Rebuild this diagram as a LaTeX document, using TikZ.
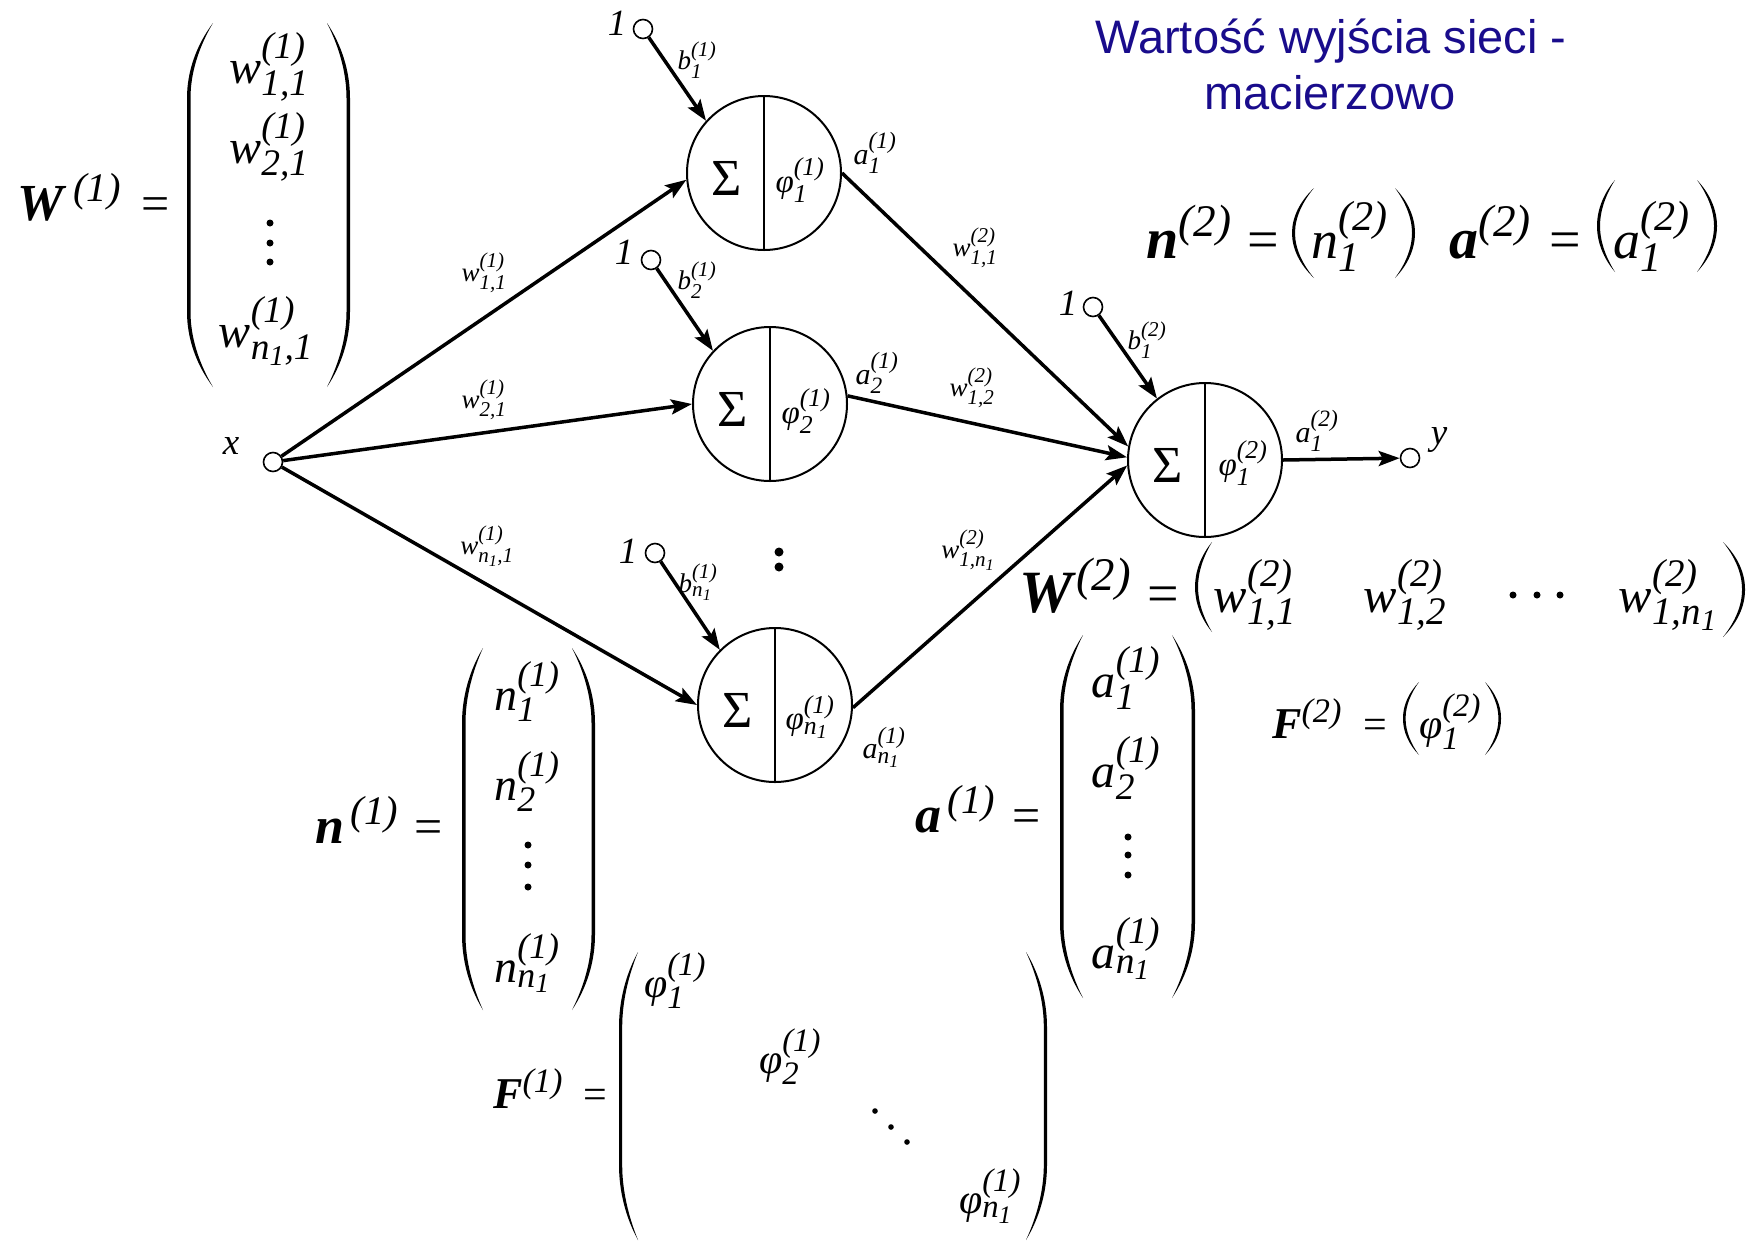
\documentclass[tikz,border=0pt]{standalone}
\usepackage{fix-cm}
\usepackage{amsmath}
\usepackage{fontspec}
\setmainfont{Liberation Serif}
\newfontfamily\titlefont{Liberation Sans}
\usetikzlibrary{arrows.meta}
\renewcommand\defaultscriptratio{.78}
\renewcommand\defaultscriptscriptratio{.6}
\definecolor{titleblue}{RGB}{25,12,140}
\newcommand\tI[1]{\textit{#1}}
\newcommand\Bv[1]{\textbf{\textit{#1}}}
\newcommand\Ex[3]{\tI{#1}^{\tI{(#2)}}_{#3}}
% #1 outer x, #2 tip x, #3 top y, #4 bottom y, #5 curve length, #6 signed thickness
\newcommand\Paren[6]{%
\fill ({#2},{#3}) .. controls ({#1+0.35*(#2-#1)},{#3+0.3*#5}) and ({#1},{#3+0.65*#5}) .. ({#1},{#3+#5})
 -- ({#1},{#4-#5}) .. controls ({#1},{#4-0.65*#5}) and ({#1+0.35*(#2-#1)},{#4-0.3*#5}) .. ({#2},{#4})
 .. controls ({#1+0.35*(#2-#1)+(#6)},{#4-0.3*#5}) and ({#1+(#6)},{#4-0.65*#5}) .. ({#1+(#6)},{#4-#5})
 -- ({#1+(#6)},{#3+#5}) .. controls ({#1+(#6)},{#3+0.65*#5}) and ({#1+0.35*(#2-#1)+(#6)},{#3+0.3*#5}) .. ({#2},{#3}) -- cycle;}
\begin{document}
\begin{tikzpicture}[x=1pt,y=-1pt,
 tx/.style={inner sep=0pt},
 fs/.style={font={\fontsize{#1}{#1}\selectfont}},
 neuron/.style={circle,draw,line width=2pt,minimum size=154pt,inner sep=0pt},
 io/.style={circle,draw,line width=1.6pt,minimum size=19pt,inner sep=0pt,fill=white},
 conn/.style={line width=3.5pt,-{Stealth[length=21pt,width=15pt,inset=4pt]}},
 divider/.style={line width=1.8pt}
]
\useasboundingbox (0,0) rectangle (1756,1240);
\fill[white] (0,0) rectangle (1756,1240);

% title
\node[tx,fs=47,anchor=base,text=titleblue] (t1) at (1331,53) {\titlefont Wartość wyjścia sieci -};
\node[tx,fs=47,anchor=base,text=titleblue] (t2) at (1330,109) {\titlefont macierzowo};

% neurons
\node[neuron] (N1) at (764,173) {};
\node[neuron] (N2) at (770,404) {};
\node[neuron] (N3) at (775,705) {};
\node[neuron] (O) at (1205,460) {};
\foreach \n in {N1,N2,N3,O} {
  \draw[divider] (\n.north) -- (\n.south);
  \node[tx,fs=52] at ([shift={(-37,5)}]\n.center) {Σ};
}
\node[tx,fs=33] (p1) at ([shift={(36,7)}]N1.center) {$\Ex{φ}{1}{\tI{1}}$};
\node[tx,fs=33] (p2) at ([shift={(36,7)}]N2.center) {$\Ex{φ}{1}{\tI{2}}$};
\node[tx,fs=33] (p3) at ([shift={(35,12)}]N3.center) {$\Ex{φ}{1}{\tI{n}_{\tI{1}}}$};
\node[tx,fs=33] (pO) at ([shift={(38,3)}]O.center) {$\Ex{φ}{2}{\tI{1}}$};

% input / bias / output terminals
\node[io] (X) at (273,462) {};
\node[io] (Y) at (1410,458) {};
\node[io] (B1) at (643,29) {};
\node[io] (B2) at (651,260) {};
\node[io] (B3) at (655,553) {};
\node[io] (BO) at (1093,307) {};

% connectors
\draw[conn] (X) -- (N1.185);
\draw[conn] (X) -- (N2.west);
\draw[conn] (X) -- (N3.west);
\draw[conn] (B1) -- (N1.138);
\draw[conn] (B2) -- (N2.137);
\draw[conn] (B3) -- (N3.135);
\draw[conn] (BO) -- (O.128);
\draw[conn] (N1.east) -- (O.170);
\draw[conn] (N2.6) -- (O.178);
\draw[conn] (N3.358) -- (O.184);
\draw[conn] (O.east) -- (Y);

% small labels
\node[tx,fs=37] (lx) at (231,446) {\tI{x}};
\node[tx,fs=37] (ly) at (1439,440) {\tI{y}};
\node[tx,fs=37] (o1) at (617,23) {\tI{1}};
\node[tx,fs=37] (o2) at (624,252) {\tI{1}};
\node[tx,fs=37] (o3) at (628,551) {\tI{1}};
\node[tx,fs=37] (oO) at (1068,303) {\tI{1}};
\node[tx,fs=27] (lb1) at (697,60) {$\Ex{b}{1}{\tI{1}}$};
\node[tx,fs=27] (lb2) at (697,280) {$\Ex{b}{1}{\tI{2}}$};
\node[tx,fs=27] (lb3) at (698,582) {$\Ex{b}{1}{\tI{n}_{\tI{1}}}$};
\node[tx,fs=27] (lbO) at (1147,340) {$\Ex{b}{2}{\tI{1}}$};
\node[tx,fs=30] (la1) at (875,153) {$\Ex{a}{1}{\tI{1}}$};
\node[tx,fs=30] (la2) at (877,373) {$\Ex{a}{1}{\tI{2}}$};
\node[tx,fs=30] (la3) at (884,747) {$\Ex{a}{1}{\tI{n}_{\tI{1}}}$};
\node[tx,fs=30] (laO) at (1317,431) {$\Ex{a}{2}{\tI{1}}$};
\node[tx,fs=27] (lw11) at (484,273) {$\Ex{w}{1}{\tI{1,1}}$};
\node[tx,fs=27] (lw21) at (484,400) {$\Ex{w}{1}{\tI{2,1}}$};
\node[tx,fs=27] (lwn1) at (487,546) {$\Ex{w}{1}{\tI{n}_{\tI{1}}\tI{,1}}$};
\node[tx,fs=27] (lv11) at (975,248) {$\Ex{w}{2}{\tI{1,1}}$};
\node[tx,fs=27] (lv12) at (972,388) {$\Ex{w}{2}{\tI{1,2}}$};
\node[tx,fs=27] (lvn1) at (968,550) {$\Ex{w}{2}{\tI{1,}\tI{n}_{\tI{1}}}$};
\fill (779,552) circle[radius=4.5pt];
\fill (779,567) circle[radius=4.5pt];

% W(1)
\node[tx,fs=52,anchor=base west] (W1) at (17,220) {$\Bv{W}^{\,\tI{(1)}}$};
\node[tx,fs=50,anchor=base] (eW1) at (156,220) {=};
\Paren{187}{213}{23}{387}{75}{3.5}
\Paren{350}{327}{23}{387}{75}{-3.5}
\node[tx,fs=48,anchor=base] (W1a) at (269,83) {$\Ex{w}{1}{\tI{1,1}}$};
\node[tx,fs=48,anchor=base] (W1b) at (269,163) {$\Ex{w}{1}{\tI{2,1}}$};
\node[tx,fs=48,anchor=base] (W1c) at (266,347) {$\Ex{w}{1}{\tI{n}_{\tI{1}}\tI{,1}}$};
\foreach \yy in {223,243,262} \fill (270,\yy) circle[radius=3.5pt];

% n(1)
\node[tx,fs=52,anchor=base west] (n1) at (315,843) {$\Bv{n}^{\,\tI{(1)}}$};
\node[tx,fs=50,anchor=base] (en1) at (429,843) {=};
\Paren{462}{483}{648}{1010}{75}{3.5}
\Paren{595}{572}{648}{1010}{75}{-3.5}
\node[tx,fs=46,anchor=base] (n1a) at (527,710) {$\Ex{n}{1}{\tI{1}}$};
\node[tx,fs=46,anchor=base] (n1b) at (527,800) {$\Ex{n}{1}{\tI{2}}$};
\node[tx,fs=46,anchor=base] (n1c) at (527,982) {$\Ex{n}{1}{\tI{n}_{\tI{1}}}$};
\foreach \yy in {845,865,887} \fill (528,\yy) circle[radius=3.5pt];

% a(1)
\node[tx,fs=52,anchor=base west] (a1) at (915,832) {$\Bv{a}^{\,\tI{(1)}}$};
\node[tx,fs=50,anchor=base] (ea1) at (1027,832) {=};
\Paren{1060}{1083}{635}{998}{75}{3.5}
\Paren{1195}{1172}{635}{998}{75}{-3.5}
\node[tx,fs=48,anchor=base] (a1a) at (1126,697) {$\Ex{a}{1}{\tI{1}}$};
\node[tx,fs=48,anchor=base] (a1b) at (1126,787) {$\Ex{a}{1}{\tI{2}}$};
\node[tx,fs=48,anchor=base] (a1c) at (1126,968) {$\Ex{a}{1}{\tI{n}_{\tI{1}}}$};
\foreach \yy in {837,855,875} \fill (1128,\yy) circle[radius=3.5pt];

% F(1)
\node[tx,fs=44,anchor=base west] (F1) at (493,1108) {$\Bv{F}^{\tI{(1)}}$};
\node[tx,fs=42,anchor=base] (eF1) at (595,1108) {=};
\Paren{619}{638}{952}{1240}{75}{3.2}
\Paren{1047}{1026}{952}{1240}{75}{-3.2}
\node[tx,fs=42,anchor=base] (F1a) at (675,997) {$\Ex{φ}{1}{\tI{1}}$};
\node[tx,fs=42,anchor=base] (F1b) at (790,1073) {$\Ex{φ}{1}{\tI{2}}$};
\node[tx,fs=42,anchor=base] (F1c) at (990,1213) {$\Ex{φ}{1}{\tI{n}_{\tI{1}}}$};
\fill (875,1111) circle[radius=2.8pt];
\fill (891,1127) circle[radius=2.8pt];
\fill (907,1142) circle[radius=2.8pt];

% W(2)
\node[tx,fs=60,anchor=base west] (W2) at (1019,612) {$\Bv{W}^{\tI{(2)}}$};
\node[tx,fs=56,anchor=base] (eW2) at (1163,612) {=};
\Paren{1195}{1212}{542}{632}{45}{3}
\Paren{1745}{1723}{542}{637}{47}{-3}
\node[tx,fs=50,anchor=base] (W2a) at (1255,612) {$\Ex{w}{2}{\tI{1,1}}$};
\node[tx,fs=50,anchor=base] (W2b) at (1405,612) {$\Ex{w}{2}{\tI{1,2}}$};
\node[tx,fs=50,anchor=base] (W2c) at (1668,612) {$\Ex{w}{2}{\tI{1,}\tI{n}_{\tI{1}}}$};
\foreach \xx in {1513,1537,1560} \fill (\xx,595) circle[radius=3.5pt];

% n(2), a(2)
\node[tx,fs=58,anchor=base west] (n2) at (1146,258) {$\Bv{n}^{\tI{(2)}}$};
\node[tx,fs=56,anchor=base] (en2) at (1263,258) {=};
\Paren{1292}{1314}{188}{278}{45}{3}
\Paren{1415}{1395}{188}{278}{45}{-3}
\node[tx,fs=54,anchor=base] (n2a) at (1350,258) {$\Ex{n}{2}{\tI{1}}$};
\node[tx,fs=58,anchor=base west] (a2) at (1449,258) {$\Bv{a}^{\tI{(2)}}$};
\node[tx,fs=56,anchor=base] (ea2) at (1565,258) {=};
\Paren{1597}{1615}{180}{272}{46}{3}
\Paren{1717}{1697}{180}{272}{46}{-3}
\node[tx,fs=54,anchor=base] (a2a) at (1652,258) {$\Ex{a}{2}{\tI{1}}$};

% F(2)
\node[tx,fs=44,anchor=base west] (F2) at (1272,738) {$\Bv{F}^{\tI{(2)}}$};
\node[tx,fs=42,anchor=base] (eF2) at (1375,738) {=};
\Paren{1403}{1419}{682}{755}{36}{2.6}
\Paren{1501}{1485}{682}{755}{36}{-2.6}
\node[tx,fs=42,anchor=base] (F2a) at (1450,738) {$\Ex{φ}{2}{\tI{1}}$};
\end{tikzpicture}
\end{document}
